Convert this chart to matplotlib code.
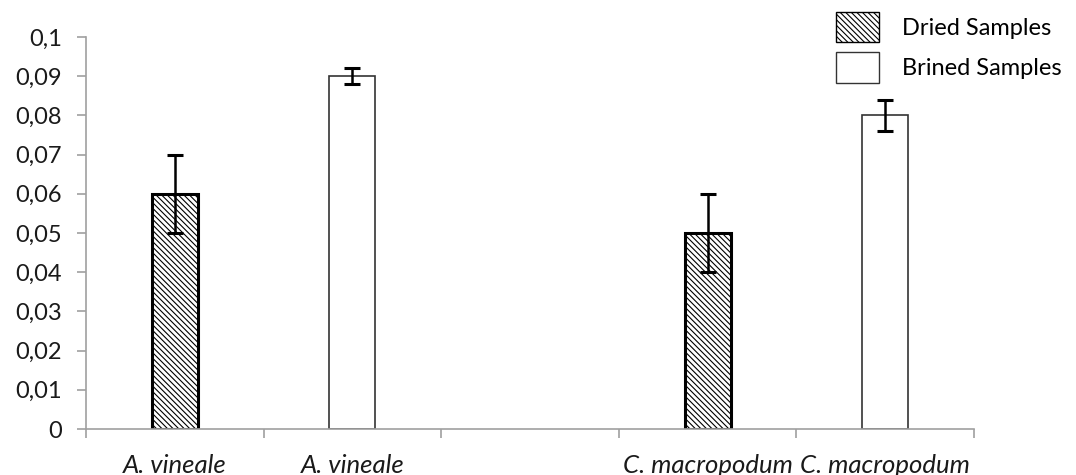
import matplotlib
matplotlib.use("Agg")
import matplotlib.pyplot as plt
from matplotlib.ticker import FixedLocator, FuncFormatter
from matplotlib.patches import Patch
import numpy as np

plt.rcParams['font.family'] = ['Lato', 'DejaVu Sans']
plt.rcParams['hatch.linewidth'] = 0.8

# Data
categories = ["A. vineale", "A. vineale", "", "C. macropodum", "C. macropodum"]
series_names = ["Dried Samples", "Brined Samples"]
# slot index -> series
dried_slots = [0, 3]
dried_values = [0.06, 0.05]
dried_errors = [0.01, 0.01]
brined_slots = [1, 4]
brined_values = [0.09, 0.08]
brined_errors = [0.002, 0.004]
y_ticks = [0, 0.01, 0.02, 0.03, 0.04, 0.05, 0.06, 0.07, 0.08, 0.09, 0.1]

W, H = 1076, 475
FS = 17
fig = plt.figure(figsize=(W / 100, H / 100), dpi=100)
ax = fig.add_axes([86 / W, 1 - 429 / H, (974 - 86) / W, (429 - 37) / H])

HATCH = '\\\\\\\\\\\\'
bw = 0.26
ax.bar(dried_slots, dried_values, width=bw, color='white', edgecolor='black',
       linewidth=2.2, hatch=HATCH, zorder=2)
ax.bar(brined_slots, brined_values, width=bw, color='white', edgecolor='#333333',
       linewidth=1.2, zorder=2)
ax.errorbar(dried_slots, dried_values, yerr=dried_errors, fmt='none', ecolor='black',
            elinewidth=1.8, capsize=6, capthick=2.2, zorder=3)
ax.errorbar(brined_slots, brined_values, yerr=brined_errors, fmt='none', ecolor='black',
            elinewidth=1.8, capsize=6, capthick=2.2, zorder=3)

ax.set_xlim(-0.5, len(categories) - 0.5)
ax.set_ylim(0, 0.1)

for s in ['top', 'right']:
    ax.spines[s].set_visible(False)
for s in ['left', 'bottom']:
    ax.spines[s].set_color('#a0a0a0')
    ax.spines[s].set_linewidth(1.2)

ax.yaxis.set_major_locator(FixedLocator(y_ticks))
ax.yaxis.set_major_formatter(FuncFormatter(lambda v, p: ('%g' % round(v, 3)).replace('.', ',')))
ax.tick_params(axis='y', length=6.5, width=1.2, color='#a0a0a0', pad=11,
               labelsize=FS, labelcolor='#1a1a1a')

ax.set_xticks(np.arange(len(categories) + 1) - 0.5)
ax.set_xticklabels([])
ax.set_xticks(np.arange(len(categories)), minor=True)
ax.set_xticklabels(categories, minor=True, fontstyle='italic', fontsize=18.5, color='#1a1a1a')
ax.tick_params(axis='x', which='major', length=6.5, width=1.2, color='#a0a0a0')
ax.tick_params(axis='x', which='minor', length=0, pad=18)

handles = [Patch(facecolor='white', edgecolor='black', linewidth=1.0, hatch=HATCH),
           Patch(facecolor='white', edgecolor='#333333', linewidth=1.0)]
fig.legend(handles, series_names, loc='upper left', bbox_to_anchor=(836 / W, 1 - 12 / H),
           frameon=False, fontsize=FS, handlelength=1.8, handleheight=1.6,
           handletextpad=1.0, labelspacing=0.42, borderpad=0, borderaxespad=0)

fig.savefig('out.png', dpi=100)
